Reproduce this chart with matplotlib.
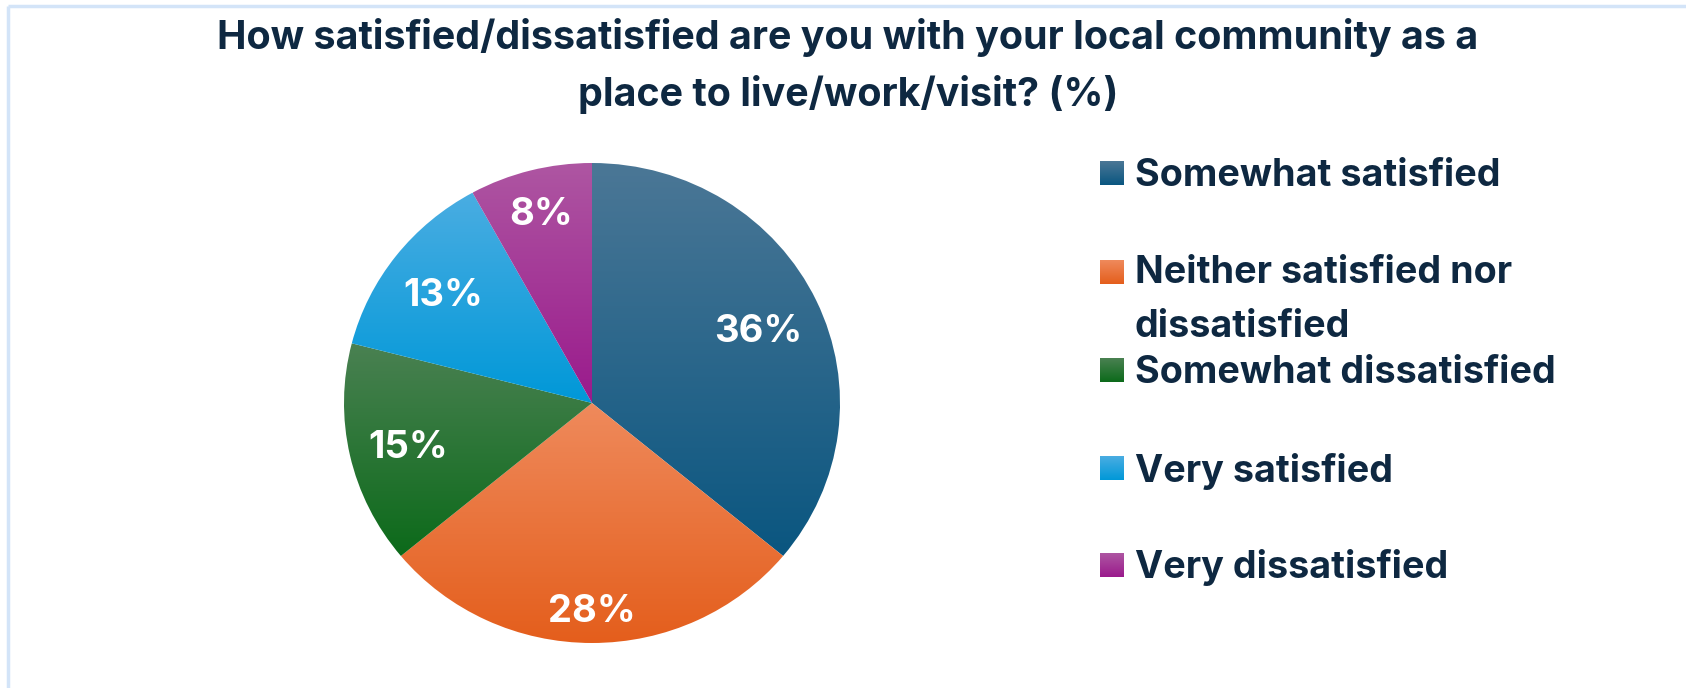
import numpy as np
import matplotlib
matplotlib.use("Agg")
import matplotlib.pyplot as plt
from matplotlib.colors import to_rgb

plt.rcParams['font.family'] = ['Inter', 'DejaVu Sans']

# survey answers, percent
labels = ["Somewhat satisfied", "Neither satisfied nor\ndissatisfied",
          "Somewhat dissatisfied", "Very satisfied", "Very dissatisfied"]
values = [36, 28, 15, 13, 8]
# (top, bottom) shade of each slice
top_colors = ["#4b7796", "#ef8a5c", "#4a8152", "#4aade2", "#ae56a2"]
bottom_colors = ["#0a5680", "#e45e1c", "#0c6a1a", "#0098d8", "#9a1a8c"]
# how far out each percentage label sits (fraction of radius)
label_r = [0.74, 0.85, 0.76, 0.76, 0.83]

title = "How satisfied/dissatisfied are you with your local community as a\nplace to live/work/visit? (%)"
navy = "#0e2841"

W, H = 1686, 688
fig = plt.figure(figsize=(W / 100, H / 100), dpi=100)
fig.patch.set_facecolor("white")

# background axes in pixel units for border, title and legend
bg = fig.add_axes([0, 0, 1, 1])
bg.set_xlim(0, W)
bg.set_ylim(H, 0)
bg.axis("off")


def gradient(c_top, c_bot, n=256):
    t = np.linspace(0, 1, n)[:, None]
    a, b = np.array(to_rgb(c_top)), np.array(to_rgb(c_bot))
    return (a * (1 - t) + b * t)[:, None, :]


bg.plot([8, W], [6, 6], color="#d3e4f8", lw=2.5, solid_capstyle="butt")
bg.plot([8, 8], [6, H], color="#d3e4f8", lw=2.5, solid_capstyle="butt")

bg.text(848, 66, title, ha="center", va="center", fontsize=28.4,
        fontweight="bold", color=navy, linespacing=1.59)

# legend
leg_y = [173, 297, 370, 468, 565]
for lab, y, ct, cb in zip(labels, leg_y, top_colors, bottom_colors):
    y0 = y if "\n" not in lab else 272
    bg.imshow(gradient(ct, cb), extent=[1100, 1124, y0 + 12, y0 - 12],
              aspect="auto", interpolation="bilinear", zorder=2)
    bg.text(1135, y + 3, lab, ha="left", va="center", fontsize=27.2,
            fontweight="bold", color=navy, linespacing=1.61)
bg.set_xlim(0, W)
bg.set_ylim(H, 0)

# pie
cx, cy, rx, ry = 592, 403, 248, 240
ax = fig.add_axes([(cx - rx) / W, (H - cy - ry) / H, 2 * rx / W, 2 * ry / H])
wedges, texts, autotexts = ax.pie(
    values, startangle=90, counterclock=False, radius=1,
    autopct=lambda p: f"{p:.0f}%",
    wedgeprops=dict(linewidth=0, edgecolor="none"),
    textprops=dict(color="white", fontsize=27.5, fontweight="bold"))

for w, ct, cb in zip(wedges, top_colors, bottom_colors):
    v = w.get_path().vertices
    x0, x1 = v[:, 0].min(), v[:, 0].max()
    y0, y1 = v[:, 1].min(), v[:, 1].max()
    w.set_facecolor("none")
    im = ax.imshow(gradient(ct, cb), extent=[x0, x1, y0, y1], origin="upper",
                   aspect="auto", interpolation="bilinear", zorder=1)
    im.set_clip_path(w)

for w, t, r in zip(wedges, autotexts, label_r):
    mid = np.deg2rad((w.theta1 + w.theta2) / 2)
    t.set_position((r * np.cos(mid), r * np.sin(mid) - 0.02))
    t.set_zorder(3)

ax.set_aspect("auto")
ax.set_xlim(-1, 1)
ax.set_ylim(-1, 1)
ax.axis("off")

fig.savefig("out.png", dpi=100, facecolor="white")
